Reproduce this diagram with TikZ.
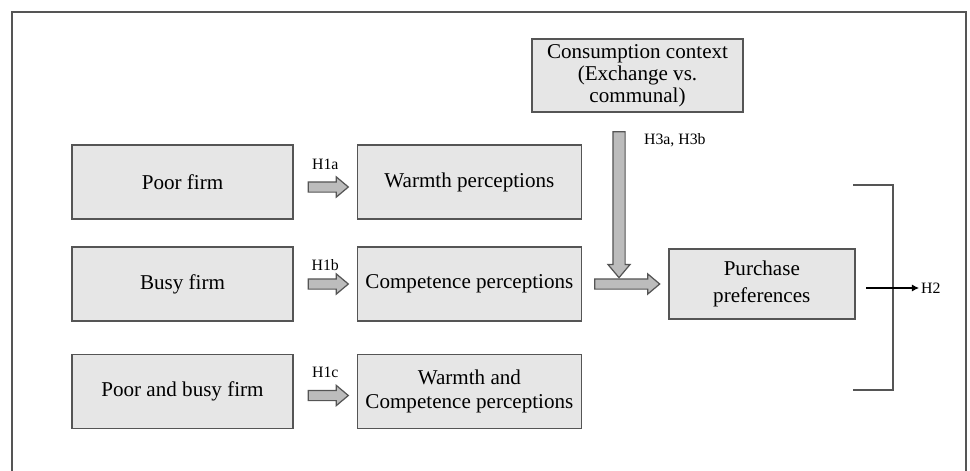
\documentclass[tikz,border=0pt]{standalone}
\usepackage{fontspec}
\setmainfont{Liberation Serif}
\usetikzlibrary{positioning,shapes.arrows,arrows.meta}
\definecolor{boxgray}{HTML}{E6E6E6}
\definecolor{arrgray}{HTML}{BCBCBC}
\definecolor{linegray}{HTML}{555555}
\tikzset{
  box/.style={draw=linegray, line width=0.8pt, fill=boxgray, align=center,
    minimum width=4.42cm, minimum height=1.48cm, inner sep=1pt,
    font=\fontsize{12}{14}\selectfont},
  blockarrow/.style={single arrow, draw=linegray, line width=0.7pt, fill=arrgray,
    inner sep=0.09cm, single arrow head extend=0.1cm, single arrow tip angle=80},
  hlabel/.style={font=\fontsize{9}{10}\selectfont, inner sep=1pt},
  bracket/.style={draw=linegray, line width=0.9pt}
}
\begin{document}
\begin{tikzpicture}
\useasboundingbox (0,0) rectangle (19.4,9.4);
% outer frame, open at the bottom
\draw[linegray, line width=0.8pt] (0.24,-0.2) |- (19.32,9.16) -- (19.32,-0.2);
% firms
\node[box] (poor) at (3.65,5.76) {Poor firm};
\node[box] (busy) at (3.65,3.72) {Busy firm};
\node[box] (both) at (3.65,1.57) {Poor and busy firm};
% perceptions
\node[box, minimum width=4.48cm, right=1.26cm of poor] (warm) {Warmth perceptions};
\node[box, minimum width=4.48cm, right=1.26cm of busy] (comp) {Competence perceptions};
\node[box, minimum width=4.48cm, right=1.26cm of both] (wc) {Warmth and\\Competence perceptions};
\node[box, minimum width=3.72cm, minimum height=1.40cm, right=1.72cm of comp,
  font=\fontsize{12}{15}\selectfont] (buy) {Purchase\\preferences};
\node[box, minimum width=4.22cm, minimum height=1.46cm,
  font=\fontsize{12}{12.5}\selectfont] (ctx) at (12.75,7.89)
  {Consumption context\\(Exchange vs.\\communal)};
% H1 arrows
\node[blockarrow, minimum height=0.8cm, right=0.28cm of poor, yshift=-0.1cm] (a1) {};
\node[blockarrow, minimum height=0.8cm, right=0.28cm of busy] (a2) {};
\node[blockarrow, minimum height=0.8cm, right=0.28cm of both, yshift=-0.08cm] (a3) {};
\node[hlabel, above=0.2cm of a1] (h1a) {H1a};
\node[hlabel, above=0.12cm of a2] (h1b) {H1b};
\node[hlabel, above=0.2cm of a3] (h1c) {H1c};
% moderation
\node[blockarrow, minimum height=1.3cm, right=0.24cm of comp] (a4) {};
\node[blockarrow, shape border rotate=270, inner sep=0.11cm, minimum height=2.92cm]
  (a5) at (12.38,5.38) {};
\node[hlabel, anchor=west] (h3) at (12.84,6.6) {H3a, H3b};
% bracket and H2
\coordinate (bt) at (17.06,5.70);
\coordinate (bb) at (17.06,1.60);
\draw[bracket] (bt) -- ++(0.8,0) |- (bb);
\coordinate (h2s) at (17.32,3.64);
\node[hlabel, anchor=west] (h2) at (18.38,3.64) {H2};
\draw[-{Latex[length=4pt,width=4pt]}, line width=0.6pt] (h2s) -- (h2.west);
\end{tikzpicture}
\end{document}
